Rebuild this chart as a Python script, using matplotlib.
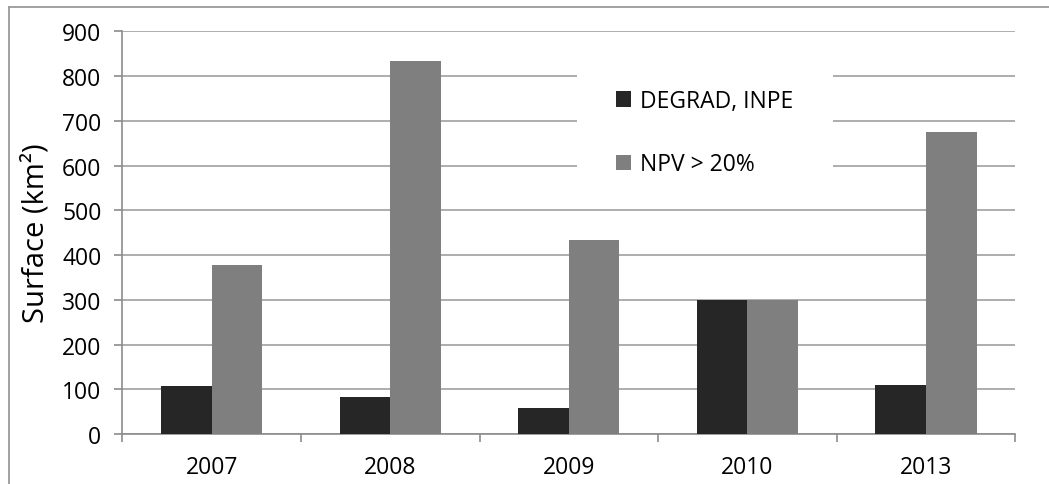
import matplotlib
matplotlib.use("Agg")
import matplotlib.pyplot as plt
from matplotlib.patches import Patch, Rectangle
from matplotlib.lines import Line2D
import numpy as np

years = ["2007", "2008", "2009", "2010", "2013"]
degrad_inpe = [107, 83, 57, 299, 109]
npv_20 = [378, 834, 433, 299, 674]
series_labels = ["DEGRAD, INPE", "NPV > 20%"]
y_ticks = [0, 100, 200, 300, 400, 500, 600, 700, 800, 900]

plt.rcParams["font.family"] = ["Open Sans", "DejaVu Sans"]

W, H, DPI = 1049, 485, 100
fig = plt.figure(figsize=(W / DPI, H / DPI), dpi=DPI)
ax = fig.add_axes([122.3 / W, 1 - 435 / H, (1015.3 - 122.3) / W, (435 - 32.3) / H])

dark = "#262626"
gray = "#7f7f7f"
axis_col = "#8c8c8c"
grid_col = "#a0a0a0"

x = np.arange(len(years))
bw = 0.283
ax.bar(x - bw / 2, degrad_inpe, width=bw, color=dark, zorder=3)
ax.bar(x + bw / 2, npv_20, width=bw, color=gray, zorder=3)

ax.set_xlim(-0.5, len(years) - 0.5)
ax.set_ylim(0, 900)
ax.set_yticks(y_ticks)
ax.yaxis.grid(True, color=grid_col, lw=1.2, zorder=0)
ax.set_axisbelow(True)

fs = 16.5
ax.set_xticks(x)
ax.set_xticklabels(years)
ax.set_xticks(np.arange(-0.5, len(years), 1.0), minor=True)
ax.tick_params(axis="x", which="major", length=0, pad=15, labelsize=fs, labelcolor="#000000")
ax.tick_params(axis="x", which="minor", length=6, width=1.2, color=axis_col, direction="out")
ax.tick_params(axis="y", length=6, width=1.2, color=axis_col, pad=9, labelsize=fs)

for s in ["top", "right"]:
    ax.spines[s].set_visible(False)
for s in ["left", "bottom"]:
    ax.spines[s].set_color(axis_col)
    ax.spines[s].set_linewidth(1.2)

ax.set_ylabel("Surface (km²)", fontsize=21, labelpad=8)

# white panel behind the legend, hiding the gridlines
fig.add_artist(Rectangle((577 / W, 1 - 200 / H), (833 - 577) / W, (200 - 62) / H,
                         transform=fig.transFigure, facecolor="white", edgecolor="none",
                         zorder=4))

handles = [Patch(facecolor=dark, edgecolor="none"), Patch(facecolor=gray, edgecolor="none")]
leg = fig.legend(handles, series_labels, loc="upper left",
                 bbox_to_anchor=(616 / W, 1 - 90 / H), bbox_transform=fig.transFigure,
                 frameon=False, fontsize=fs, handlelength=0.66, handleheight=0.66,
                 handletextpad=0.4, labelspacing=1.72, borderpad=0, borderaxespad=0)
leg.set_zorder(5)

# outer frame of the chart area
fig.add_artist(Line2D([8.5 / W, 1.0], [1 - 7.5 / H, 1 - 7.5 / H], transform=fig.transFigure,
                      color="#9a9a9a", lw=1.3))
fig.add_artist(Line2D([8.5 / W, 8.5 / W], [0.0, 1 - 7.5 / H], transform=fig.transFigure,
                      color="#9a9a9a", lw=1.3))

fig.savefig("out.png", dpi=DPI, facecolor="white")
